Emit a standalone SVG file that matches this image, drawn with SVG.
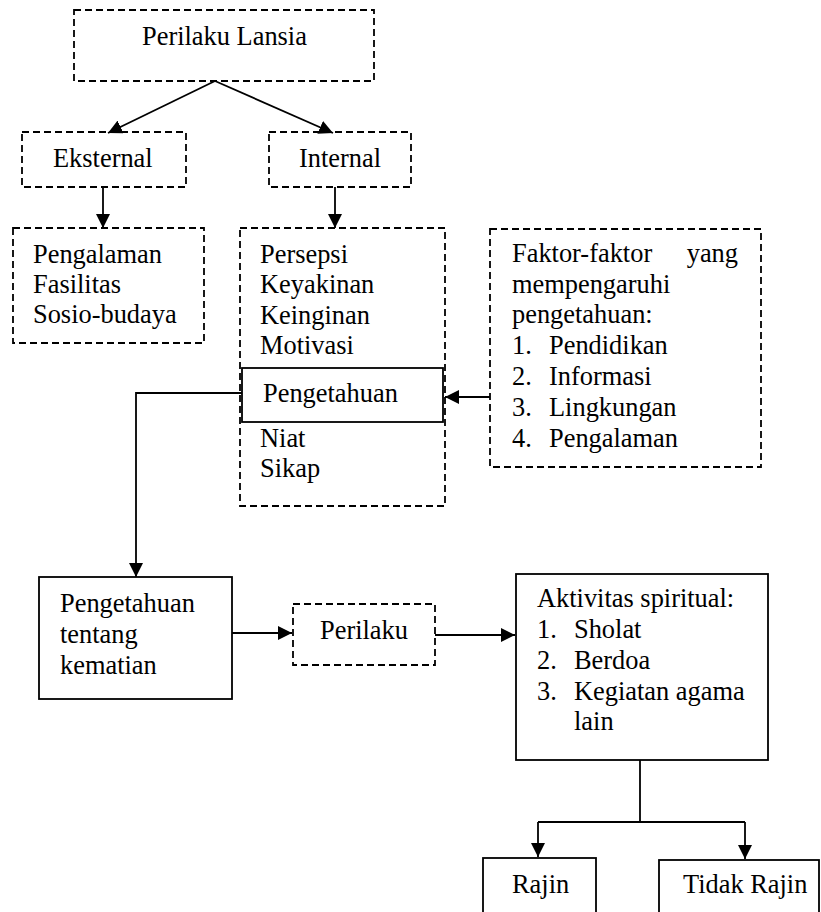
<svg xmlns="http://www.w3.org/2000/svg" width="821" height="912" viewBox="0 0 821 912">
<style>
  .t { font-family: "Liberation Serif", "Times New Roman", serif; font-size: 26.4px; fill: #000; }
  .dash { fill: none; stroke: #000; stroke-width: 1.8; stroke-dasharray: 7 4; }
  .solid { fill: #fff; stroke: #000; stroke-width: 1.8; }
  .c { fill: none; stroke: #000; stroke-width: 1.8; }
</style>
<defs>
  <marker id="ah" viewBox="0 0 14 14" refX="14" refY="7" markerWidth="14" markerHeight="14" markerUnits="userSpaceOnUse" orient="auto">
    <path d="M0,0 L14,7 L0,14 z" fill="#000"/>
  </marker>
</defs>
<rect width="821" height="912" fill="#fff"/>

<g id="connectors">
  <path class="c" d="M215,81 L108,133" marker-end="url(#ah)"/>
  <path class="c" d="M215,81 L333,133" marker-end="url(#ah)"/>
  <path class="c" d="M103,187 L103,228" marker-end="url(#ah)"/>
  <path class="c" d="M335,187 L335,228" marker-end="url(#ah)"/>
  <path class="c" d="M490,397 L445,397" marker-end="url(#ah)"/>
  <path class="c" d="M242,393 L136,393 L136,577" marker-end="url(#ah)"/>
  <path class="c" d="M232,633 L292,633" marker-end="url(#ah)"/>
  <path class="c" d="M435,635 L515,635" marker-end="url(#ah)"/>
  <path class="c" d="M640,760 L640,822"/>
  <path class="c" d="M538,822 L745,822"/>
  <path class="c" d="M538,822 L538,857" marker-end="url(#ah)"/>
  <path class="c" d="M745,822 L745,859" marker-end="url(#ah)"/>
</g>

<g id="perilaku-lansia">
  <rect class="dash" x="74" y="10" width="300" height="71"/>
  <text class="t" x="142" y="45">Perilaku Lansia</text>
</g>
<g id="eksternal">
  <rect class="dash" x="22" y="132" width="164" height="55"/>
  <text class="t" x="53" y="167">Eksternal</text>
</g>
<g id="internal">
  <rect class="dash" x="269" y="132" width="142" height="55"/>
  <text class="t" x="299" y="167">Internal</text>
</g>
<g id="faktor-eksternal">
  <rect class="dash" x="13" y="228" width="191" height="115"/>
  <text class="t" x="33" y="263">Pengalaman</text>
  <text class="t" x="33" y="293">Fasilitas</text>
  <text class="t" x="33" y="323">Sosio-budaya</text>
</g>
<g id="faktor-internal">
  <rect class="dash" x="240" y="228" width="205" height="278"/>
  <text class="t" x="260" y="263">Persepsi</text>
  <text class="t" x="260" y="293">Keyakinan</text>
  <text class="t" x="260" y="324">Keinginan</text>
  <text class="t" x="260" y="354">Motivasi</text>
  <text class="t" x="260" y="447">Niat</text>
  <text class="t" x="260" y="477">Sikap</text>
</g>
<g id="pengetahuan">
  <rect class="solid" x="242" y="368" width="201" height="54"/>
  <text class="t" x="263" y="402">Pengetahuan</text>
</g>
<g id="faktor-pengetahuan">
  <rect class="dash" x="490" y="229" width="271" height="238"/>
  <text class="t" x="512" y="262">Faktor-faktor</text>
  <text class="t" x="738" y="262" text-anchor="end">yang</text>
  <text class="t" x="512" y="293">mempengaruhi</text>
  <text class="t" x="512" y="323">pengetahuan:</text>
  <text class="t" x="512" y="354">1.</text><text class="t" x="549" y="354">Pendidikan</text>
  <text class="t" x="512" y="385">2.</text><text class="t" x="549" y="385">Informasi</text>
  <text class="t" x="512" y="416">3.</text><text class="t" x="549" y="416">Lingkungan</text>
  <text class="t" x="512" y="447">4.</text><text class="t" x="549" y="447">Pengalaman</text>
</g>
<g id="pengetahuan-kematian">
  <rect class="solid" x="39" y="577" width="193" height="122"/>
  <text class="t" x="60" y="612">Pengetahuan</text>
  <text class="t" x="60" y="643">tentang</text>
  <text class="t" x="60" y="674">kematian</text>
</g>
<g id="perilaku">
  <rect class="dash" x="293" y="604" width="142" height="61"/>
  <text class="t" x="320" y="639">Perilaku</text>
</g>
<g id="aktivitas-spiritual">
  <rect class="solid" x="516" y="574" width="252" height="186"/>
  <text class="t" x="537" y="607">Aktivitas spiritual:</text>
  <text class="t" x="537" y="638">1.</text><text class="t" x="574" y="638">Sholat</text>
  <text class="t" x="537" y="669">2.</text><text class="t" x="574" y="669">Berdoa</text>
  <text class="t" x="537" y="700">3.</text><text class="t" x="574" y="700">Kegiatan agama</text>
  <text class="t" x="574" y="730">lain</text>
</g>
<g id="rajin">
  <rect class="solid" x="483" y="858" width="113" height="70"/>
  <text class="t" x="512" y="893">Rajin</text>
</g>
<g id="tidak-rajin">
  <rect class="solid" x="659" y="860" width="160" height="70"/>
  <text class="t" x="683" y="893">Tidak Rajin</text>
</g>
</svg>
